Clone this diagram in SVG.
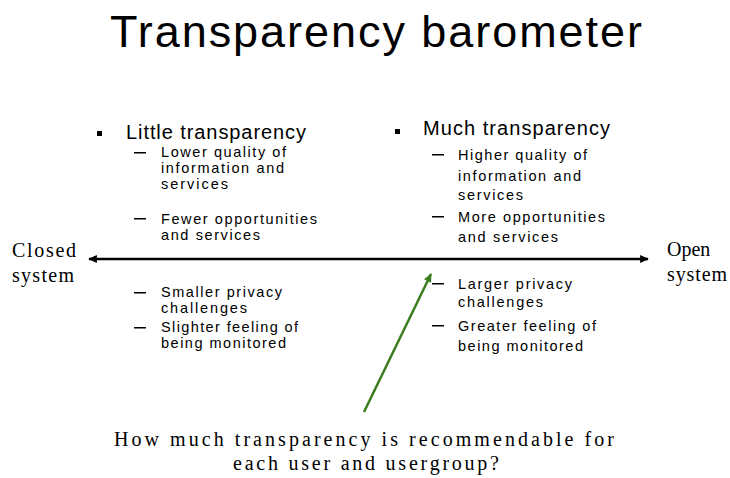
<svg xmlns="http://www.w3.org/2000/svg" width="730" height="478" viewBox="0 0 730 478">
<defs>
<marker id="ah" viewBox="0 0 10 10" refX="9" refY="5" markerWidth="4" markerHeight="3.5" orient="auto-start-reverse" markerUnits="strokeWidth">
<path d="M0,0.5 L10,5 L0,9.5 z" fill="#000"/>
</marker>
<marker id="ag" viewBox="0 0 10 10" refX="9" refY="5" markerWidth="4" markerHeight="3.5" orient="auto" markerUnits="strokeWidth">
<path d="M0,0.5 L10,5 L0,9.5 z" fill="#3a7d1e"/>
</marker>
<style>
.t{font-family:"Liberation Sans",Arial,sans-serif;fill:#000}
.h{font-size:20px}
.s{font-size:14.5px}
.sf{font-family:"Liberation Serif","Times New Roman",serif;fill:#000}
</style>
</defs>
<rect width="730" height="478" fill="#fff"/>
<text id="title" class="t" x="110" y="47" font-size="45" textLength="532" lengthAdjust="spacing">Transparency barometer</text>
<g id="connectors">
<line x1="89" y1="259" x2="648" y2="259" stroke="#000" stroke-width="2.5" marker-start="url(#ah)" marker-end="url(#ah)"/>
<line x1="364" y1="412" x2="431" y2="274" stroke="#3a7d1e" stroke-width="2.5" marker-end="url(#ag)"/>
</g>
<g id="closed"><text class="sf" font-size="20"><tspan x="12" y="257" textLength="64" lengthAdjust="spacing">Closed</tspan><tspan x="12" y="282" textLength="62" lengthAdjust="spacing">system</tspan></text></g>
<g id="open"><text class="sf" font-size="20"><tspan x="667" y="256">Open</tspan><tspan x="667" y="281" textLength="60" lengthAdjust="spacing">system</tspan></text></g>
<g id="little">
<rect x="97" y="131" width="5" height="5" fill="#000"/>
<text class="t h" x="126" y="139" textLength="180" lengthAdjust="spacing">Little transparency</text>
<g class="t s">
<rect x="134" y="152" width="12" height="1.5" fill="#000"/>
<text x="161" y="157" textLength="125" lengthAdjust="spacing">Lower quality of</text>
<text x="161" y="173" textLength="123" lengthAdjust="spacing">information and</text>
<text x="161" y="189" textLength="67" lengthAdjust="spacing">services</text>
<rect x="134" y="218" width="12" height="1.5" fill="#000"/>
<text x="161" y="224" textLength="156" lengthAdjust="spacing">Fewer opportunities</text>
<text x="161" y="240" textLength="99" lengthAdjust="spacing">and services</text>
<rect x="134" y="292" width="12" height="1.5" fill="#000"/>
<text x="161" y="297" textLength="121" lengthAdjust="spacing">Smaller privacy</text>
<text x="161" y="313" textLength="86" lengthAdjust="spacing">challenges</text>
<rect x="134" y="327" width="12" height="1.5" fill="#000"/>
<text x="161" y="332" textLength="137" lengthAdjust="spacing">Slighter feeling of</text>
<text x="161" y="348" textLength="125" lengthAdjust="spacing">being monitored</text>
</g>
</g>
<g id="much">
<rect x="395" y="129" width="5" height="5" fill="#000"/>
<text class="t h" x="423" y="135" textLength="187" lengthAdjust="spacing">Much transparency</text>
<g class="t s">
<rect x="432" y="154" width="12" height="1.5" fill="#000"/>
<text x="458" y="160" textLength="129" lengthAdjust="spacing">Higher quality of</text>
<text x="458" y="181" textLength="123" lengthAdjust="spacing">information and</text>
<text x="458" y="200" textLength="65" lengthAdjust="spacing">services</text>
<rect x="432" y="216" width="12" height="1.5" fill="#000"/>
<text x="458" y="222" textLength="147" lengthAdjust="spacing">More opportunities</text>
<text x="458" y="242" textLength="100" lengthAdjust="spacing">and services</text>
<rect x="432" y="283" width="12" height="1.5" fill="#000"/>
<text x="458" y="289" textLength="114" lengthAdjust="spacing">Larger privacy</text>
<text x="458" y="307" textLength="85" lengthAdjust="spacing">challenges</text>
<rect x="432" y="325" width="12" height="1.5" fill="#000"/>
<text x="458" y="331" textLength="138" lengthAdjust="spacing">Greater feeling of</text>
<text x="458" y="351" textLength="125" lengthAdjust="spacing">being monitored</text>
</g>
</g>
<g id="question"><text class="sf" font-size="20"><tspan x="114" y="446" textLength="500" lengthAdjust="spacing">How much transparency is recommendable for</tspan><tspan x="233" y="470" textLength="266" lengthAdjust="spacing">each user and usergroup?</tspan></text></g>
</svg>
